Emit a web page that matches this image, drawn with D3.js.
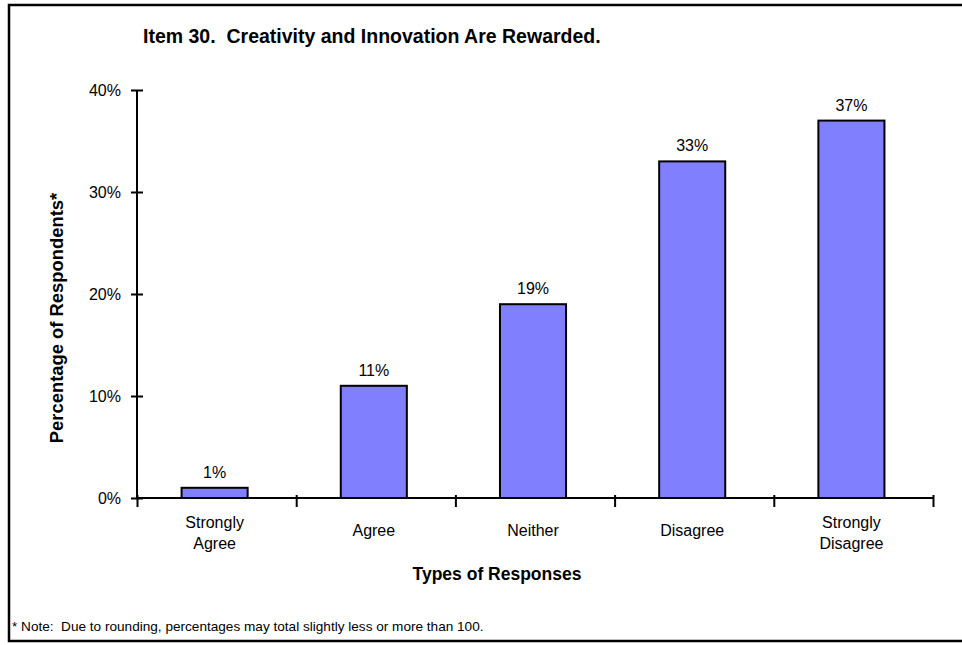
<!DOCTYPE html>
<html>
<head>
<meta charset="utf-8">
<script src="https://cdn.jsdelivr.net/npm/d3@7"></script>
<style>
  body { margin: 0; background: #fff; }
  text { font-family: "Liberation Sans", Arial, sans-serif; }
</style>
</head>
<body>
<div id="grafica"></div>
<script>
// data
var categories = ["Strongly\nAgree", "Agree", "Neither", "Disagree", "Strongly\nDisagree"];
var values = [1, 11, 19, 33, 37];
var yTicks = [0, 10, 20, 30, 40];

var W = 962, H = 645;
var margin = { top: 90, right: 29, bottom: 147, left: 137 },
  width = W - margin.left - margin.right,
  height = H - margin.top - margin.bottom;

var svg = d3.select("#grafica")
  .append("svg")
  .attr("width", W)
  .attr("height", H);

// outer frame
svg.append("rect")
  .attr("x", 9)
  .attr("y", 5)
  .attr("width", 960)
  .attr("height", 636)
  .style("fill", "none")
  .style("stroke", "black")
  .style("stroke-width", 2.5);

// title
svg.append("text")
  .attr("x", 143)
  .attr("y", 43)
  .style("font-size", "19.5px")
  .style("font-weight", "bold")
  .style("white-space", "pre")
  .text("Item 30.  Creativity and Innovation Are Rewarded.");

var g = svg.append("g")
  .attr("transform", "translate(" + margin.left + "," + margin.top + ")");

// ---------------------------//
//       AXIS  AND SCALE      //
// ---------------------------//

var x = d3.scaleBand()
  .domain(categories)
  .range([0, width])
  .padding(0);

// boundary ticks between the categories
var xEdge = d3.scaleLinear()
  .domain([0, categories.length])
  .range([0, width]);

var y = d3.scaleLinear()
  .domain([0, 40])
  .range([height, 0]);

// bars
g.append("g")
  .selectAll("rect")
  .data(values)
  .enter()
  .append("rect")
  .attr("x", function (d, i) {
    return x(categories[i]) + x.bandwidth() * 0.28;
  })
  .attr("width", x.bandwidth() * 0.415)
  .attr("y", function (d) { return y(d); })
  .attr("height", function (d) { return height - y(d); })
  .style("fill", "#8080ff")
  .style("stroke", "black")
  .style("stroke-width", 2);

// value labels
g.append("g")
  .selectAll("text")
  .data(values)
  .enter()
  .append("text")
  .attr("x", function (d, i) {
    return x(categories[i]) + x.bandwidth() * 0.4875;
  })
  .attr("y", function (d) { return y(d) - 10; })
  .attr("text-anchor", "middle")
  .style("font-size", "16px")
  .text(function (d) { return d + "%"; });

// Y axis
var yAxis = g.append("g")
  .call(d3.axisLeft(y)
    .tickValues(yTicks)
    .tickSize(6)
    .tickPadding(10)
    .tickFormat(function (d) { return d + "%"; }));
yAxis.select(".domain").attr("stroke-width", 2).attr("d", "M0," + height + "V0");
yAxis.selectAll(".tick line").attr("x1", 6).attr("stroke-width", 2);
yAxis.selectAll("text")
  .style("font-size", "16px")
  .style("font-family", "'Liberation Sans', Arial, sans-serif")
  .attr("fill", "#000");

// X axis
var xAxis = g.append("g")
  .attr("transform", "translate(0," + height + ")")
  .call(d3.axisBottom(xEdge)
    .ticks(categories.length)
    .tickSize(9)
    .tickFormat(""));
xAxis.select(".domain").attr("stroke-width", 2).attr("d", "M0,0H" + width);
xAxis.selectAll(".tick line").attr("y1", -3).attr("stroke-width", 2);

// category labels
var catLabels = g.append("g")
  .selectAll("text")
  .data(categories)
  .enter()
  .append("text")
  .attr("text-anchor", "middle")
  .style("font-size", "16px")
  .attr("transform", function (d) {
    return "translate(" + (x(d) + x.bandwidth() * 0.4875) + "," + height + ")";
  });
catLabels.each(function (d) {
  var lines = d.split("\n");
  var t = d3.select(this);
  lines.forEach(function (line, i) {
    t.append("tspan")
      .attr("x", 0)
      .attr("y", (lines.length === 1 ? 38 : 30 + i * 21))
      .text(line);
  });
});

// axis titles
svg.append("text")
  .attr("x", 497)
  .attr("y", 580)
  .attr("text-anchor", "middle")
  .style("font-size", "17.5px")
  .style("font-weight", "bold")
  .text("Types of Responses");

svg.append("text")
  .attr("transform", "translate(63,318) rotate(-90)")
  .attr("text-anchor", "middle")
  .style("font-size", "18.4px")
  .style("font-weight", "bold")
  .text("Percentage of Respondents*");

// footnote
svg.append("text")
  .attr("x", 12)
  .attr("y", 631)
  .style("font-size", "13.6px")
  .style("white-space", "pre")
  .text("* Note:  Due to rounding, percentages may total slightly less or more than 100.");
</script>
</body>
</html>
